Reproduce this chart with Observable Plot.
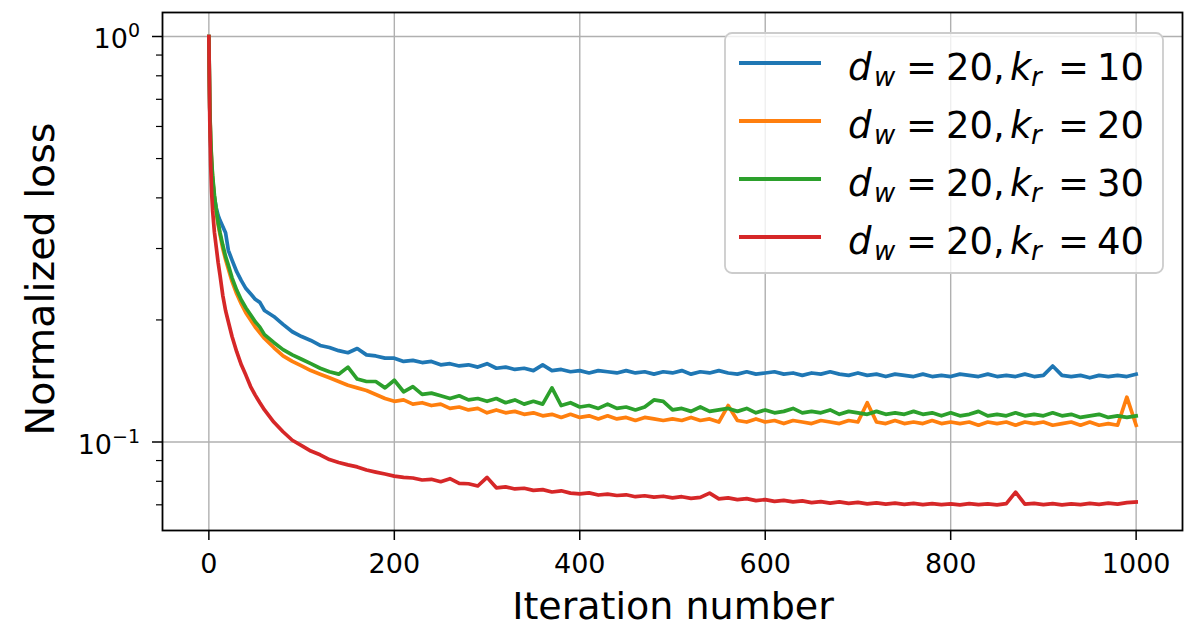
<!DOCTYPE html>
<html><head><meta charset="utf-8">
<script src="https://cdn.jsdelivr.net/npm/d3@7"></script>
<script src="https://cdn.jsdelivr.net/npm/@observablehq/plot@0.6"></script>
<style>body{margin:0;background:#fff;} svg text{white-space:pre;}</style>
</head><body><div id="chart"></div>
<script>
const iterations = [0,1,2,3,4,6,8,10,12,15,18,21,25,30,35,40,45,50,55,60,
 70,80,90,100,110,120,130,140,150,160,170,180,190,
 200,210,220,230,240,250,260,270,280,290,300,310,320,330,340,350,360,370,380,390,
 400,410,420,430,440,450,460,470,480,490,500,510,520,530,540,550,560,570,580,590,
 600,610,620,630,640,650,660,670,680,690,700,710,720,730,740,750,760,770,780,790,
 800,810,820,830,840,850,860,870,880,890,900,910,920,930,940,950,960,970,980,990,1000];

const lossK10 = [1.0,0.657,0.539,0.481,0.442,0.400,0.378,0.362,0.352,0.340,0.328,0.297,0.281,0.263,0.250,0.239,0.232,0.225,0.221,0.211,
 0.204,0.195,0.187,0.182,0.178,0.173,0.171,0.168,0.166,0.170,0.164,0.163,0.161,
 0.161,0.158,0.159,0.157,0.158,0.155,0.156,0.154,0.155,0.153,
 0.156,0.152,0.153,0.151,0.152,0.150,0.155,0.150,0.151,0.149,
 0.150,0.148,0.150,0.149,0.148,0.150,0.148,0.149,0.147,0.149,
 0.148,0.150,0.147,0.149,0.148,0.150,0.148,0.147,0.149,0.147,
 0.148,0.149,0.147,0.148,0.146,0.148,0.147,0.149,0.147,0.146,
 0.148,0.146,0.147,0.145,0.147,0.146,0.145,0.147,0.145,0.146,
 0.145,0.147,0.146,0.145,0.147,0.145,0.146,0.145,0.147,0.145,
 0.146,0.154,0.146,0.145,0.146,0.144,0.146,0.145,0.146,0.145,
 0.147];

const lossK20 = [1.0,0.662,0.548,0.490,0.450,0.400,0.368,0.343,0.325,0.300,0.282,0.267,0.249,0.232,0.219,0.208,0.200,0.192,0.186,0.180,
 0.171,0.163,0.158,0.154,0.150,0.147,0.144,0.141,0.138,0.136,0.134,0.131,0.128,
 0.126,0.127,0.124,0.125,0.123,0.124,0.121,0.122,0.120,0.121,
 0.118,0.120,0.118,0.119,0.117,0.118,0.116,0.117,0.115,0.117,
 0.115,0.116,0.114,0.116,0.114,0.115,0.113,0.115,0.114,0.113,
 0.114,0.113,0.115,0.113,0.114,0.112,0.123,0.113,0.112,0.114,
 0.112,0.113,0.111,0.113,0.112,0.111,0.113,0.112,0.111,0.113,
 0.112,0.125,0.112,0.111,0.113,0.111,0.112,0.111,0.113,0.111,
 0.112,0.111,0.112,0.110,0.112,0.111,0.112,0.110,0.112,0.111,
 0.112,0.110,0.111,0.112,0.110,0.112,0.110,0.111,0.110,0.129,
 0.110];

const lossK30 = [1.0,0.665,0.554,0.495,0.455,0.406,0.373,0.348,0.329,0.306,0.287,0.273,0.254,0.237,0.224,0.214,0.206,0.198,0.192,0.184,
 0.176,0.169,0.164,0.160,0.156,0.152,0.149,0.147,0.153,0.143,0.141,0.141,0.136,
 0.142,0.133,0.137,0.131,0.132,0.130,0.128,0.130,0.127,0.128,
 0.126,0.128,0.125,0.127,0.124,0.126,0.124,0.136,0.123,0.125,
 0.122,0.123,0.121,0.124,0.121,0.122,0.120,0.122,0.127,0.126,
 0.120,0.121,0.119,0.122,0.119,0.120,0.121,0.119,0.121,0.118,
 0.120,0.118,0.119,0.121,0.118,0.119,0.118,0.120,0.117,0.119,
 0.118,0.117,0.119,0.117,0.118,0.117,0.119,0.117,0.118,0.116,
 0.118,0.116,0.117,0.119,0.116,0.117,0.116,0.118,0.116,0.117,
 0.116,0.118,0.116,0.117,0.115,0.116,0.117,0.115,0.116,0.115,
 0.116];

const lossK40 = [1.0,0.621,0.481,0.413,0.373,0.329,0.302,0.277,0.258,0.230,0.211,0.198,0.182,0.167,0.155,0.146,0.137,0.1305,0.125,0.120,
 0.112,0.106,0.101,0.098,0.095,0.093,0.0905,0.089,0.0878,0.0868,0.0853,0.0843,0.0834,
 0.0824,0.0818,0.0815,0.0806,0.0809,0.0798,0.0812,0.0791,0.0789,0.0779,
 0.0818,0.0771,0.0775,0.0766,0.0769,0.0760,0.0763,0.0753,0.0758,0.0748,
 0.0745,0.0749,0.0740,0.0744,0.0738,0.0741,0.0733,0.0737,0.0731,0.0735,
 0.0728,0.0733,0.0726,0.0730,0.0748,0.0724,0.0728,0.0721,0.0725,0.0717,
 0.0721,0.0714,0.0718,0.0712,0.0716,0.0709,0.0713,0.0707,0.0712,0.0706,
 0.0710,0.0704,0.0708,0.0703,0.0707,0.0702,0.0706,0.0701,0.0705,0.0701,
 0.0704,0.0700,0.0705,0.0701,0.0704,0.0700,0.0705,0.0752,0.0703,0.0706,
 0.0701,0.0705,0.0700,0.0704,0.0701,0.0706,0.0702,0.0707,0.0703,0.0709,
 0.0711];

const seriesValues = [lossK10, lossK20, lossK30, lossK40];
const seriesDw = ["20", "20", "20", "20"];
const seriesKr = ["10", "20", "30", "40"];
const seriesColors = ["#1f77b4", "#ff7f0e", "#2ca02c", "#d62728"];
const xTicks = [0, 200, 400, 600, 800, 1000];
const yMajorTicks = [1, 0.1];
const yMajorBase = ["10", "10"];
const yMajorExp = ["0", "−1"];
const yMinorTicks = [0.07, 0.08, 0.09, 0.2, 0.3, 0.4, 0.5, 0.6, 0.7, 0.8, 0.9];
const xLabel = "Iteration number";
const yLabel = "Normalized loss";

const rows = [];
seriesValues.forEach((arr, s) => arr.forEach((v, i) => rows.push({series: s, x: iterations[i], y: v})));

const W = 1184, H = 630, ML = 162, MR = 2, MT = 12, MB = 100;

const svg = Plot.plot({
  width: W, height: H,
  marginLeft: ML, marginRight: MR, marginTop: MT, marginBottom: MB,
  style: {fontFamily: "'DejaVu Sans', sans-serif", background: "white", color: "black"},
  x: {domain: [-50, 1050], label: null},
  y: {type: "log", domain: [0.0605, 1.146], label: null},
  color: {domain: [0, 1, 2, 3], range: seriesColors},
  marks: [
    Plot.gridX(xTicks, {stroke: "#b0b0b0", strokeOpacity: 1, strokeWidth: 1.4}),
    Plot.gridY(yMajorTicks, {stroke: "#b0b0b0", strokeOpacity: 1, strokeWidth: 1.4}),
    Plot.line(rows, {x: "x", y: "y", z: "series", stroke: "series", strokeWidth: 3.7, strokeLinejoin: "round", strokeLinecap: "square"}),
    Plot.frame({stroke: "black", strokeWidth: 1.8}),
    Plot.axisX(xTicks, {tickSize: 10, tickPadding: 13, fontSize: 27, strokeWidth: 1.5, label: null, tickFormat: d => String(d)}),
    Plot.axisY(yMajorTicks, {tickSize: 10, strokeWidth: 1.5, label: null, tickFormat: () => ""}),
    Plot.axisY(yMinorTicks, {tickSize: 6, strokeWidth: 1.2, label: null, tickFormat: () => ""})
  ]
});

const root = d3.select(svg);
root.selectAll("text").attr("fill", "black");
const yScale = svg.scale("y");

// y tick labels with superscript exponents
yMajorTicks.forEach((v, i) => {
  const py = yScale.apply(v);
  const t = root.append("text").attr("x", 140).attr("y", py + 12).attr("text-anchor", "end")
    .attr("font-size", 27).attr("fill", "black");
  t.append("tspan").text(yMajorBase[i]);
  t.append("tspan").attr("dy", -11).attr("font-size", 19).text(yMajorExp[i]);
});

// axis labels
root.append("text").attr("x", 673).attr("y", 619)
  .attr("text-anchor", "middle").attr("font-size", 38).attr("fill", "black").text(xLabel);
root.append("text").attr("transform", `translate(54,279) rotate(-90)`)
  .attr("text-anchor", "middle").attr("font-size", 39.5).attr("fill", "black").text(yLabel);

// legend
const lg = root.append("g").attr("text-anchor", "start");
lg.append("rect").attr("x", 725).attr("y", 33).attr("width", 438).attr("height", 240).attr("rx", 7)
  .attr("fill", "white").attr("fill-opacity", 0.8).attr("stroke", "#cccccc").attr("stroke-width", 1.8);
seriesColors.forEach((c, i) => {
  const cy = 63 + i * 58;
  lg.append("line").attr("x1", 739).attr("x2", 821).attr("y1", cy).attr("y2", cy)
    .attr("stroke", c).attr("stroke-width", 4);
  const t = lg.append("text").attr("y", cy + 17).attr("font-size", 37).attr("fill", "black").attr("text-anchor", "start");
  t.append("tspan").attr("x", 848).attr("font-style", "italic").text("d");
  t.append("tspan").attr("x", 874).attr("dy", 6).attr("font-size", 26).attr("font-style", "italic").text("w");
  t.append("tspan").attr("x", 906).attr("dy", -6).text("=");
  t.append("tspan").attr("x", 946).text(seriesDw[i] + ",");
  t.append("tspan").attr("x", 1010).attr("font-style", "italic").text("k");
  t.append("tspan").attr("x", 1031).attr("dy", 6).attr("font-size", 26).attr("font-style", "italic").text("r");
  t.append("tspan").attr("x", 1058).attr("dy", -6).text("=");
  t.append("tspan").attr("x", 1097).text(seriesKr[i]);
});

document.getElementById("chart").appendChild(svg);
</script>
</body></html>
